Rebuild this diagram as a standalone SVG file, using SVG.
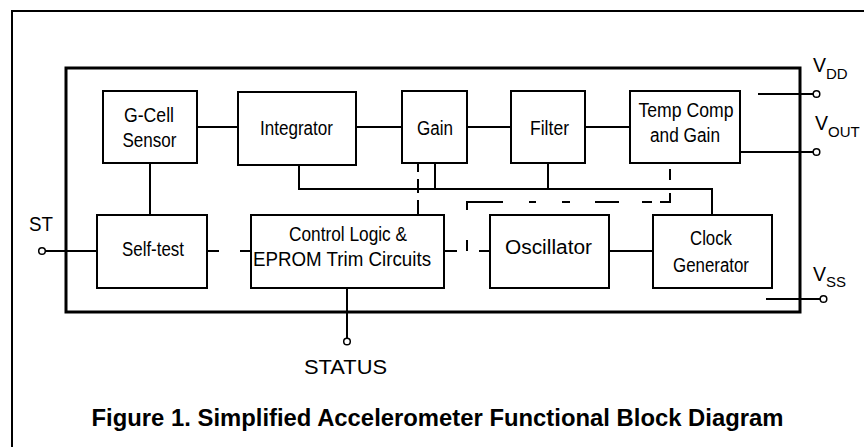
<svg xmlns="http://www.w3.org/2000/svg" width="864" height="447" viewBox="0 0 864 447">
<style>
.box{fill:#fff;stroke:#000;stroke-width:2}
.ln{fill:none;stroke:#000;stroke-width:2}
.pin{fill:#fff;stroke:#000;stroke-width:1.5}
text{font-family:"Liberation Sans",Arial,sans-serif;font-size:19.5px;fill:#000;text-anchor:middle}
.sub{font-size:15px}
.title{font-weight:bold;font-size:23px}
</style>
<rect x="0" y="0" width="864" height="447" fill="#fff"/>
<g id="frame">
<rect x="12" y="11" width="900" height="500" fill="none" stroke="#000" stroke-width="2"/>
</g>
<g id="chip">
<rect x="66" y="68" width="734" height="244" fill="none" stroke="#000" stroke-width="3"/>
</g>
<g id="connectors">
<line class="ln" x1="197" y1="127" x2="238" y2="127"/>
<line class="ln" x1="356" y1="127" x2="402" y2="127"/>
<line class="ln" x1="467" y1="127" x2="511" y2="127"/>
<line class="ln" x1="585" y1="127" x2="630" y2="127"/>
<line class="ln" x1="740" y1="152" x2="813" y2="152"/>
<line class="ln" x1="758" y1="94" x2="813" y2="94"/>
<line class="ln" x1="766" y1="299" x2="820" y2="299"/>
<line class="ln" x1="45" y1="251" x2="97" y2="251"/>
<line class="ln" x1="347" y1="288" x2="347" y2="338"/>
<line class="ln" x1="150" y1="163" x2="150" y2="215"/>
<line class="ln" x1="609" y1="251" x2="653" y2="251"/>
<polyline class="ln" points="299,165 299,189 712,189 712,215"/>
<line class="ln" x1="435" y1="163" x2="435" y2="189"/>
<line class="ln" x1="548" y1="163" x2="548" y2="189"/>
<path class="ln" d="M207 251H219M240 251H251"/>
<path class="ln" d="M418 163V172M418 179V193M418 200V215"/>
<path class="ln" d="M670 150V158M670 169V180M670 193V202H660M652 202H642M619 202H595M570 202H562M536 202H529M503 202H467V210M467 240V251M444 251H457M479 251H490"/>
</g>
<g id="gcell"><rect class="box" x="103" y="91" width="94" height="72"/><text x="149" y="121.5" textLength="50" lengthAdjust="spacingAndGlyphs">G-Cell</text><text x="149.5" y="147" textLength="54" lengthAdjust="spacingAndGlyphs">Sensor</text></g>
<g id="integrator"><rect class="box" x="238" y="92" width="118" height="73"/><text x="296.5" y="135" textLength="73" lengthAdjust="spacingAndGlyphs">Integrator</text></g>
<g id="gain"><rect class="box" x="402" y="91" width="65" height="72"/><text x="435" y="135" textLength="36" lengthAdjust="spacingAndGlyphs">Gain</text></g>
<g id="filter"><rect class="box" x="511" y="91" width="74" height="72"/><text x="549.5" y="135" textLength="39" lengthAdjust="spacingAndGlyphs">Filter</text></g>
<g id="tempcomp"><rect class="box" x="630" y="91" width="110" height="72"/><text x="686" y="117" textLength="95" lengthAdjust="spacingAndGlyphs">Temp Comp</text><text x="685" y="142" textLength="70" lengthAdjust="spacingAndGlyphs">and Gain</text></g>
<g id="selftest"><rect class="box" x="97" y="215" width="110" height="73"/><text x="153" y="256" textLength="62" lengthAdjust="spacingAndGlyphs">Self-test</text></g>
<g id="control"><rect class="box" x="251" y="215" width="193" height="73"/><text x="348" y="240.5" textLength="118" lengthAdjust="spacingAndGlyphs">Control Logic &amp;</text><text x="342" y="266" textLength="178" lengthAdjust="spacingAndGlyphs">EPROM Trim Circuits</text></g>
<g id="oscillator"><rect class="box" x="490" y="215" width="119" height="73"/><text x="548.5" y="253.5" textLength="87" lengthAdjust="spacingAndGlyphs">Oscillator</text></g>
<g id="clockgen"><rect class="box" x="653" y="215" width="119" height="73"/><text x="711" y="245" textLength="42" lengthAdjust="spacingAndGlyphs">Clock</text><text x="711" y="271.5" textLength="76" lengthAdjust="spacingAndGlyphs">Generator</text></g>
<g id="pin-vdd"><circle class="pin" cx="816.5" cy="94" r="3.3"/><text x="813" y="72" text-anchor="start" style="text-anchor:start">V<tspan class="sub" dy="7">DD</tspan></text></g>
<g id="pin-vout"><circle class="pin" cx="816.5" cy="152" r="3.3"/><text x="815" y="130" style="text-anchor:start">V<tspan class="sub" dy="7">OUT</tspan></text></g>
<g id="pin-vss"><circle class="pin" cx="823.5" cy="299" r="3.3"/><text x="813" y="281" style="text-anchor:start">V<tspan class="sub" dy="6">SS</tspan></text></g>
<g id="pin-st"><circle class="pin" cx="42" cy="251" r="3.3"/><text x="41" y="230.5" textLength="24" lengthAdjust="spacingAndGlyphs">ST</text></g>
<g id="pin-status"><circle class="pin" cx="347" cy="341.5" r="3.3"/><text x="345.5" y="374" textLength="83" lengthAdjust="spacingAndGlyphs">STATUS</text></g>
<text class="title" x="437.5" y="426" textLength="692" lengthAdjust="spacingAndGlyphs">Figure 1. Simplified Accelerometer Functional Block Diagram</text>
</svg>
